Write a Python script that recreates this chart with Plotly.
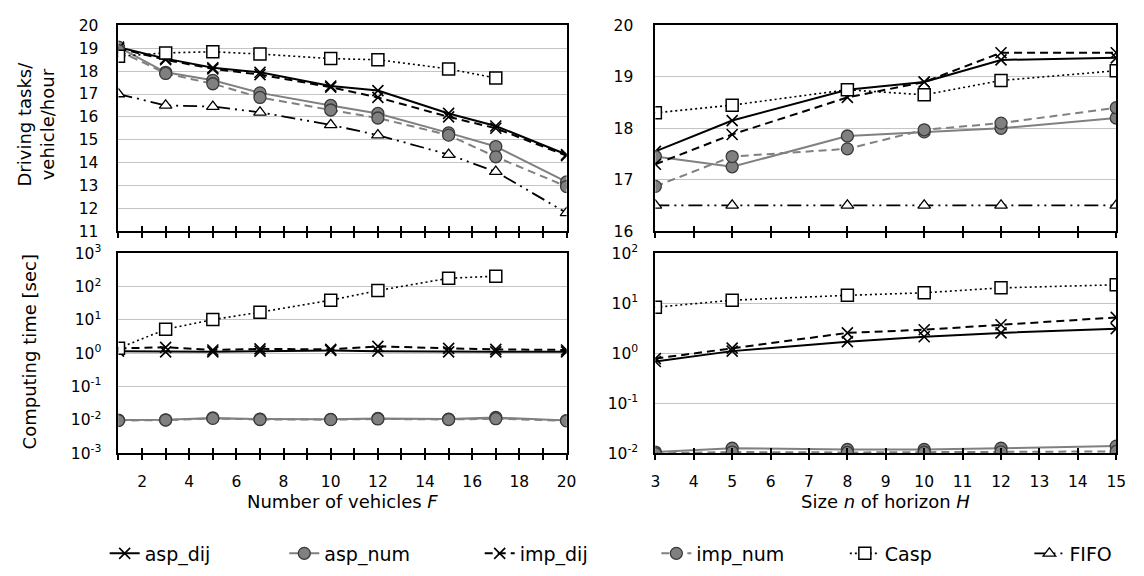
import plotly.graph_objects as go

# ---------------- data ----------------
F_vals = [1, 3, 5, 7, 10, 12, 15, 17, 20]
F_casp = [1, 3, 5, 7, 10, 12, 15, 17]
H_vals = [3, 5, 8, 10, 12, 15]

# Driving tasks / vehicle / hour vs number of vehicles F
tasks_F_asp_dij = [19.05, 18.55, 18.15, 17.95, 17.35, 17.15, 16.15, 15.6, 14.35]
tasks_F_asp_num = [19.05, 17.95, 17.6, 17.05, 16.5, 16.15, 15.3, 14.7, 13.15]
tasks_F_imp_dij = [19.0, 18.5, 18.1, 17.85, 17.3, 16.85, 16.0, 15.5, 14.3]
tasks_F_imp_num = [18.9, 17.9, 17.45, 16.85, 16.3, 15.95, 15.2, 14.25, 12.95]
tasks_F_casp = [18.65, 18.8, 18.85, 18.75, 18.55, 18.5, 18.1, 17.7]
tasks_F_fifo = [17.0, 16.5, 16.45, 16.2, 15.65, 15.2, 14.35, 13.6, 11.8]

# Driving tasks / vehicle / hour vs horizon size n
tasks_H_asp_dij = [17.55, 18.15, 18.75, 18.9, 19.33, 19.37]
tasks_H_asp_num = [17.45, 17.25, 17.85, 17.93, 18.0, 18.2]
tasks_H_imp_dij = [17.3, 17.88, 18.6, 18.9, 19.47, 19.47]
tasks_H_imp_num = [16.87, 17.45, 17.6, 17.97, 18.1, 18.4]
tasks_H_casp = [18.3, 18.45, 18.75, 18.65, 18.93, 19.12]
tasks_H_fifo = [16.5, 16.5, 16.5, 16.5, 16.5, 16.5]

# Computing time [sec] vs F
time_F_asp_dij = [1.15, 1.1, 1.1, 1.15, 1.2, 1.15, 1.1, 1.1, 1.1]
time_F_asp_num = [0.0098, 0.0100, 0.0114, 0.0105, 0.0103, 0.0110, 0.0105, 0.0117, 0.0095]
time_F_imp_dij = [1.4, 1.5, 1.25, 1.35, 1.3, 1.6, 1.4, 1.3, 1.25]
time_F_imp_num = [0.0095, 0.0098, 0.0110, 0.0102, 0.0101, 0.0106, 0.0102, 0.0108, 0.0093]
time_F_casp = [1.4, 5.2, 10.2, 17.0, 39.0, 76.0, 178.0, 205.0]

# Computing time [sec] vs n
time_H_asp_dij = [0.68, 1.1, 1.7, 2.13, 2.55, 3.1]
time_H_asp_num = [0.0105, 0.0125, 0.0118, 0.0118, 0.0125, 0.0138]
time_H_imp_dij = [0.78, 1.26, 2.55, 2.95, 3.7, 5.2]
time_H_imp_num = [0.0098, 0.0105, 0.0103, 0.0104, 0.0106, 0.0108]
time_H_casp = [8.3, 11.5, 14.4, 16.2, 20.3, 23.4]

series_names = ["asp_dij", "asp_num", "imp_dij", "imp_num", "Casp", "FIFO"]

F_ticks = [2, 4, 6, 8, 10, 12, 14, 16, 18, 20]
H_ticks = list(range(3, 16))
logF_ticks = [1e-3, 1e-2, 1e-1, 1e0, 1e1, 1e2, 1e3]
logF_text = ["10<sup>-3</sup>", "10<sup>-2</sup>", "10<sup>-1</sup>", "10<sup>0</sup>",
             "10<sup>1</sup>", "10<sup>2</sup>", "10<sup>3</sup>"]
logH_ticks = [1e-2, 1e-1, 1e0, 1e1, 1e2]
logH_text = ["10<sup>-2</sup>", "10<sup>-1</sup>", "10<sup>0</sup>", "10<sup>1</sup>", "10<sup>2</sup>"]

# ---------------- styles ----------------
GRAY = "#808080"
FONT = "DejaVu Sans, Liberation Sans, Arial, sans-serif"
styles = {
    "asp_dij": dict(line=dict(color="black", width=2, dash="solid"),
                    marker=dict(symbol="x-thin", size=11, color="black",
                                line=dict(color="black", width=1.6))),
    "asp_num": dict(line=dict(color=GRAY, width=2, dash="solid"),
                    marker=dict(symbol="circle", size=12, color=GRAY,
                                line=dict(color="#3a3a3a", width=1.3))),
    "imp_dij": dict(line=dict(color="black", width=2, dash="8px,5px"),
                    marker=dict(symbol="x-thin", size=11, color="black",
                                line=dict(color="black", width=1.6))),
    "imp_num": dict(line=dict(color=GRAY, width=2, dash="8px,5px"),
                    marker=dict(symbol="circle", size=12, color=GRAY,
                                line=dict(color="#3a3a3a", width=1.3))),
    "Casp": dict(line=dict(color="black", width=1.6, dash="2px,3px"),
                 marker=dict(symbol="square", size=12, color="white",
                             line=dict(color="black", width=1.5))),
    "FIFO": dict(line=dict(color="black", width=1.8, dash="14px,5px,2px,5px,2px,5px"),
                 marker=dict(symbol="triangle-up", size=11, color="white",
                             line=dict(color="black", width=1.3))),
}
legend_ids = {"asp_dij": "legend", "asp_num": "legend2", "imp_dij": "legend3",
              "imp_num": "legend4", "Casp": "legend5", "FIFO": "legend6"}

fig = go.Figure()


def add(name, x, y, xa, ya, show):
    st = styles[name]
    fig.add_trace(go.Scatter(x=x, y=y, name=name, mode="lines+markers",
                             line=st["line"], marker=st["marker"],
                             xaxis=xa, yaxis=ya, legendgroup=name,
                             legend=legend_ids[name], showlegend=show))


# top-left
add("asp_dij", F_vals, tasks_F_asp_dij, "x", "y", True)
add("asp_num", F_vals, tasks_F_asp_num, "x", "y", True)
add("imp_dij", F_vals, tasks_F_imp_dij, "x", "y", True)
add("imp_num", F_vals, tasks_F_imp_num, "x", "y", True)
add("Casp", F_casp, tasks_F_casp, "x", "y", True)
add("FIFO", F_vals, tasks_F_fifo, "x", "y", True)
# top-right
add("asp_dij", H_vals, tasks_H_asp_dij, "x2", "y2", False)
add("asp_num", H_vals, tasks_H_asp_num, "x2", "y2", False)
add("imp_dij", H_vals, tasks_H_imp_dij, "x2", "y2", False)
add("imp_num", H_vals, tasks_H_imp_num, "x2", "y2", False)
add("Casp", H_vals, tasks_H_casp, "x2", "y2", False)
add("FIFO", H_vals, tasks_H_fifo, "x2", "y2", False)
# bottom-left
add("asp_dij", F_vals, time_F_asp_dij, "x3", "y3", False)
add("asp_num", F_vals, time_F_asp_num, "x3", "y3", False)
add("imp_dij", F_vals, time_F_imp_dij, "x3", "y3", False)
add("imp_num", F_vals, time_F_imp_num, "x3", "y3", False)
add("Casp", F_casp, time_F_casp, "x3", "y3", False)
# bottom-right
add("asp_dij", H_vals, time_H_asp_dij, "x4", "y4", False)
add("asp_num", H_vals, time_H_asp_num, "x4", "y4", False)
add("imp_dij", H_vals, time_H_imp_dij, "x4", "y4", False)
add("imp_num", H_vals, time_H_imp_num, "x4", "y4", False)
add("Casp", H_vals, time_H_casp, "x4", "y4", False)

# invisible traces for overlay axes (inner half of crossing tick marks)
for xa, ya in [("x5", "y"), ("x6", "y2"), ("x7", "y3"), ("x8", "y4")]:
    fig.add_trace(go.Scatter(x=[], y=[], xaxis=xa, yaxis=ya, showlegend=False,
                             hoverinfo="skip"))

W, H = 1144, 576
L_dom = [115 / W, 569 / W]
R_dom = [659 / W, 1126 / W]
T_dom = [1 - 228 / H, 1 - 15 / H]
B_dom = [1 - 458 / H, 1 - 251 / H]

tickfont = dict(family=FONT, size=15.5, color="black")
common_x = dict(showline=True, linecolor="black", linewidth=2, mirror=True,
                showgrid=False, zeroline=False, ticks="outside", ticklen=5,
                tickwidth=1.5, tickcolor="black", tickfont=tickfont)
common_y = dict(showline=True, linecolor="black", linewidth=2, mirror=True,
                showgrid=True, gridcolor="#c4c4c4", gridwidth=1, zeroline=False,
                ticks="", tickfont=tickfont)

fig.update_layout(
    xaxis=dict(common_x, domain=L_dom, anchor="y", range=[1, 20], tickmode="linear",
               tick0=1, dtick=1, showticklabels=False),
    yaxis=dict(common_y, domain=T_dom, anchor="x", range=[11, 20], tickmode="linear",
               tick0=11, dtick=1, ticklabelstandoff=15),
    xaxis2=dict(common_x, domain=R_dom, anchor="y2", range=[3, 15], tickmode="linear",
                tick0=3, dtick=1, showticklabels=False),
    yaxis2=dict(common_y, domain=T_dom, anchor="x2", range=[16, 20], tickmode="linear",
                tick0=16, dtick=1, ticklabelstandoff=17),
    xaxis3=dict(common_x, domain=L_dom, anchor="y3", range=[1, 20], tickmode="array",
                tickvals=F_ticks, ticktext=[str(v) for v in F_ticks], ticklabelstandoff=8,
                minor=dict(ticks="outside", ticklen=5, tickwidth=1.5, tickcolor="black",
                           tickmode="linear", tick0=1, dtick=1)),
    yaxis3=dict(common_y, domain=B_dom, anchor="x3", type="log", range=[-3, 3],
                tickmode="array", tickvals=logF_ticks, ticktext=logF_text,
                ticklabelstandoff=12),
    xaxis4=dict(common_x, domain=R_dom, anchor="y4", range=[3, 15], tickmode="array",
                tickvals=H_ticks, ticktext=[str(v) for v in H_ticks], ticklabelstandoff=8),
    yaxis4=dict(common_y, domain=B_dom, anchor="x4", type="log", range=[-2, 2],
                tickmode="array", tickvals=logH_ticks, ticktext=logH_text,
                ticklabelstandoff=12),
)

# overlay axes providing the inner half of crossing tick marks
ov = dict(showline=False, showgrid=False, zeroline=False, showticklabels=False,
          ticks="inside", ticklen=5, tickwidth=1.5, tickcolor="black",
          tickmode="linear", dtick=1)
fig.update_layout(
    xaxis5=dict(ov, overlaying="x", anchor="y", domain=L_dom, range=[1, 20], tick0=1),
    xaxis6=dict(ov, overlaying="x2", anchor="y2", domain=R_dom, range=[3, 15], tick0=3),
    xaxis7=dict(ov, overlaying="x3", anchor="y3", domain=L_dom, range=[1, 20], tick0=1),
    xaxis8=dict(ov, overlaying="x4", anchor="y4", domain=R_dom, range=[3, 15], tick0=3),
)

title_font = dict(family=FONT, size=18, color="black")
fig.update_layout(annotations=[
    dict(text="Number of vehicles <i>F</i>", x=342 / W, y=1 - 508 / H, xref="paper",
         yref="paper", showarrow=False, font=title_font, xanchor="center", yanchor="middle"),
    dict(text="Size <i>n</i> of horizon <i>H</i>", x=892 / W, y=1 - 508 / H, xref="paper",
         yref="paper", showarrow=False, font=title_font, xanchor="center", yanchor="middle"),
    dict(text="Driving tasks/<br>vehicle/hour", x=31 / W, y=1 - 117 / H, xref="paper",
         yref="paper", showarrow=False, font=title_font, textangle=-90,
         xanchor="center", yanchor="middle"),
    dict(text="Computing time [sec]", x=25 / W, y=1 - 353 / H, xref="paper",
         yref="paper", showarrow=False, font=title_font, textangle=-90,
         xanchor="center", yanchor="middle"),
])

# one legend per entry, placed where the reference shows each entry
legend_text_x = [143, 325, 523, 702, 893, 1080]
leg_font = dict(family=FONT, size=19, color="black")
legend_layout = {}
for i, tx in enumerate(legend_text_x):
    key = "legend" if i == 0 else f"legend{i + 1}"
    legend_layout[key] = dict(orientation="h", x=(tx - 42) / W, y=1 - 562 / H,
                              xanchor="left", yanchor="middle", font=leg_font,
                              bgcolor="rgba(0,0,0,0)", borderwidth=0)
fig.update_layout(**legend_layout)

fig.update_layout(
    width=W, height=H,
    margin=dict(l=0, r=0, t=0, b=0),
    paper_bgcolor="white", plot_bgcolor="white",
    font=dict(family=FONT, size=16, color="black"),
    showlegend=True,
)

fig.write_html("out.html", config={"displayModeBar": False},
               post_script="document.body.style.margin='0px';")
